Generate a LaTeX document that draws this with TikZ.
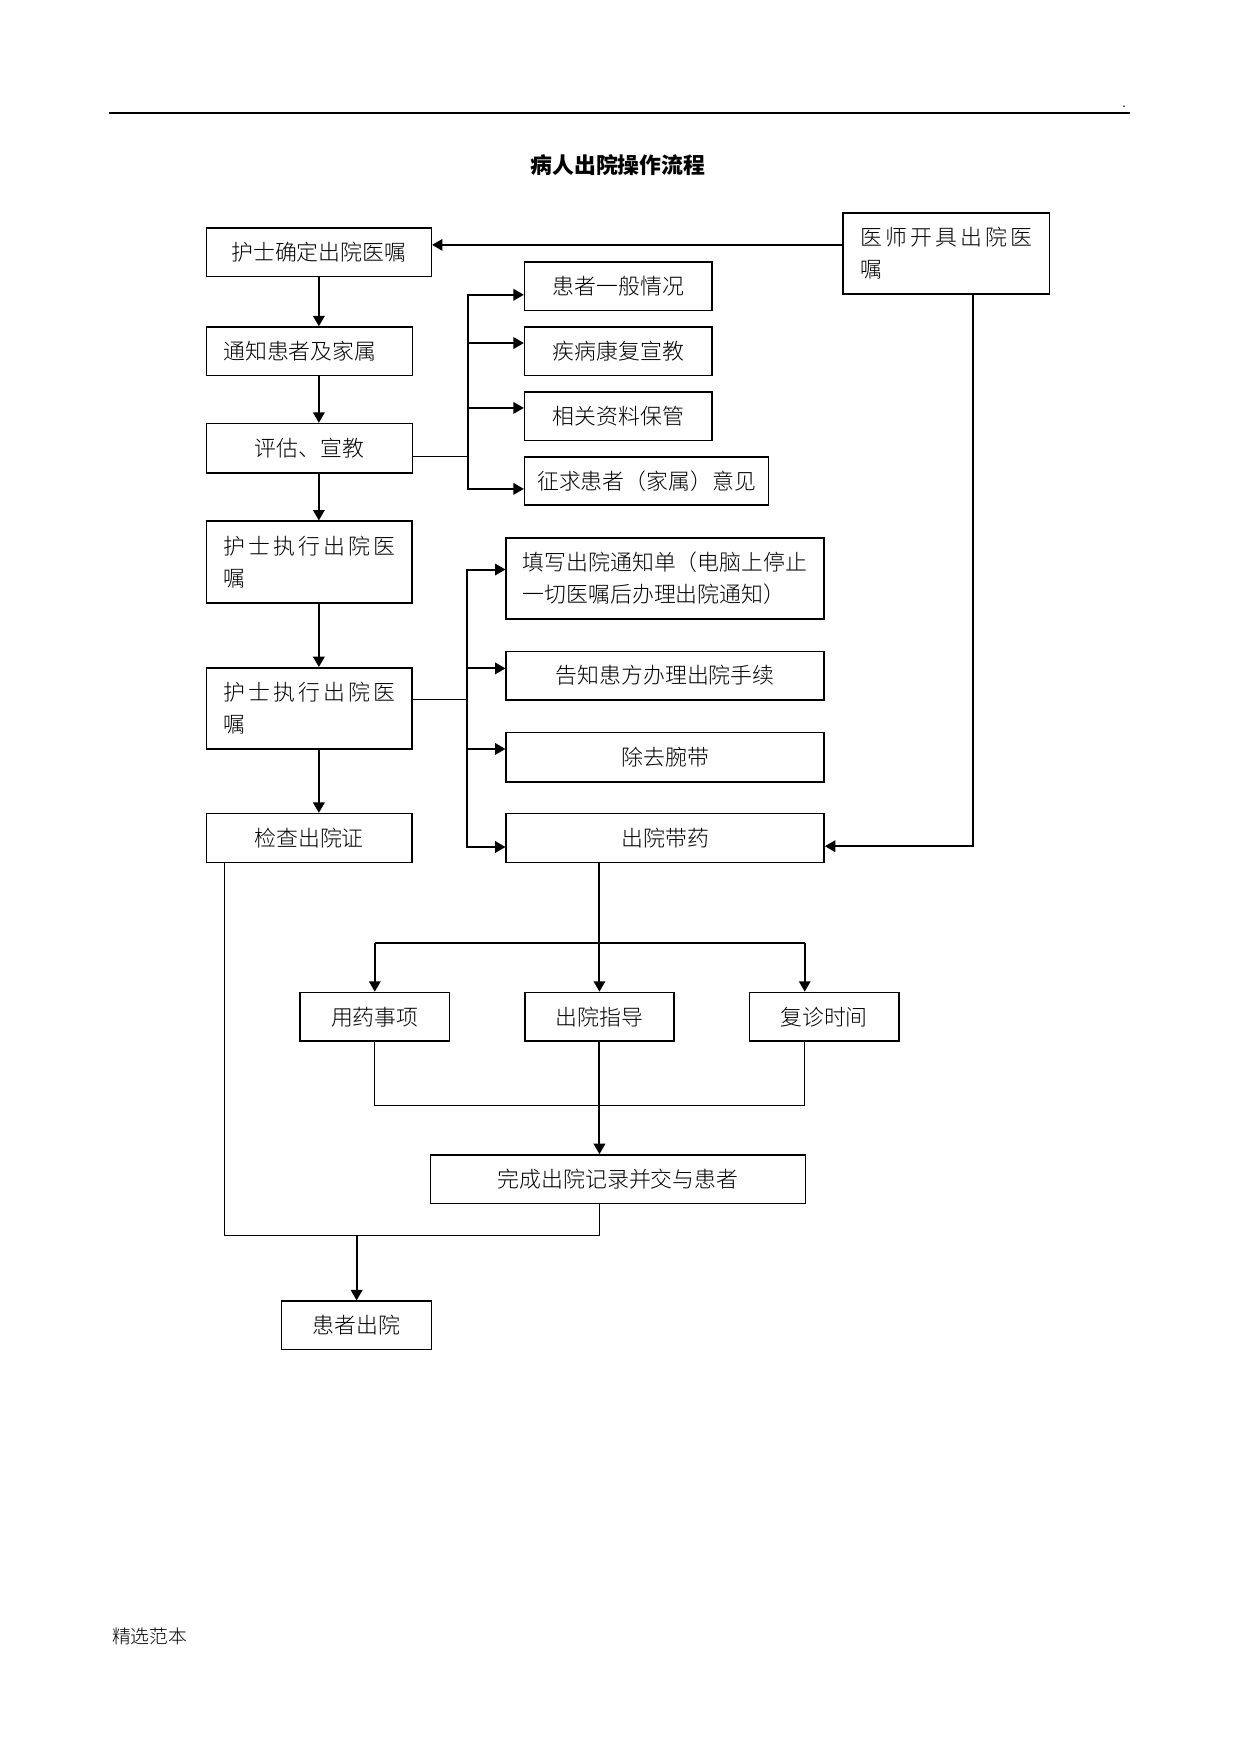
\documentclass[tikz,border=0pt]{standalone}
\usepackage{fontspec}
\setmainfont{Noto Sans CJK SC}
\newfontfamily\lightcjk{Noto Sans CJK SC Light}
\usetikzlibrary{arrows.meta}
\newdimen\px
\px=0.5412pt
\newcommand\boxfont{\lightcjk\fontsize{10.5pt}{15.4pt}\selectfont}
\newcommand\titlefont{\fontsize{10.5pt}{13pt}\selectfont\bfseries}

\begin{document}
\begin{tikzpicture}[x=0.5412pt,y=-0.5412pt,
  box/.style 2 args={draw,line width=0.75pt,anchor=north west,inner sep=0pt,
    minimum width=#1\px,minimum height=#2\px,font=\boxfont},
  lbox/.style={align=left},
  arr/.style={line width=0.96pt,-{Triangle[length=5pt,width=5.5pt]}},
  bus/.style={line width=0.96pt},
  link/.style={line width=0.5pt}]
\useasboundingbox (0,0) rectangle (1100,1555.6);

\draw[line width=0.96pt] (96.5,100) -- (1002,100);
\node[font=\fontsize{6pt}{6pt}\selectfont,anchor=base] (dot) at (997,95) {.};
\node[font=\titlefont] (title) at (548,146.2) {病人出院操作流程};

\node[box={199.4}{43.1}] (confirm) at (182.4,201.4) {护士确定出院医嘱};
\node[box={183}{71.8},lbox,text width=152.5\px] (doctor) at (747,188.1) {\hbox to\hsize{医\hfill 师\hfill 开\hfill 具\hfill 出\hfill 院\hfill 医}\\嘱};
\node[box={182.6}{42.9},lbox,text width=152.6\px] (notify) at (182.4,289.4) {通知患者及家属};
\node[box={182.6}{43.8}] (assess) at (182.4,375) {评估、宣教};
\node[box={182.4}{72.4},lbox,text width=152.5\px] (execA) at (182.3,461.6) {\hbox to\hsize{护\hfill 士\hfill 执\hfill 行\hfill 出\hfill 院\hfill 医}\\嘱};
\node[box={182.4}{72},lbox,text width=152.5\px] (execB) at (182.3,591.6) {\hbox to\hsize{护\hfill 士\hfill 执\hfill 行\hfill 出\hfill 院\hfill 医}\\嘱};
\node[box={182.4}{43.4}] (check) at (182.3,720.9) {检查出院证};

\node[box={166.4}{42.9}] (general) at (464.6,231.8) {患者一般情况};
\node[box={166.4}{42.9}] (rehab) at (464.6,289.4) {疾病康复宣教};
\node[box={166.4}{42.8}] (archive) at (464.6,347) {相关资料保管};
\node[box={216.2}{42.8}] (opinion) at (464.6,404.6) {征求患者（家属）意见};

\node[box={281.9}{72},lbox,text width=252.5\px] (fillform) at (448.3,476.4) {填写出院通知单（电脑上停止\\一切医嘱后办理出院通知）};
\node[box={281.9}{43.2}] (tell) at (448.3,577) {告知患方办理出院手续};
\node[box={281.9}{43.5}] (band) at (448.3,649.1) {除去腕带};
\node[box={281.9}{43.4}] (drug) at (448.3,720.9) {出院带药};

\node[box={132.6}{43.1}] (usage) at (265.4,879.5) {用药事项};
\node[box={132.1}{43.1}] (guide) at (464.9,879.5) {出院指导};
\node[box={132.5}{43.1}] (review) at (663.9,879.5) {复诊时间};
\node[box={332.5}{42.9}] (done) at (381.2,1023.6) {完成出院记录并交与患者};
\node[box={133}{42.8}] (leave) at (249.1,1153.3) {患者出院};

\coordinate (busA) at (415.3,404.6);
\coordinate (busB) at (414.5,620.2);
\coordinate (busC) at (863.1,750.5);
\coordinate (busD) at (713.7,836.1);
\coordinate (joinE) at (713.7,980.2);
\coordinate (joinF) at (199,1095.4);

\draw[arr] ([yshift=7.5\px]doctor.west) -- ([yshift=7.5\px]doctor.west -| confirm.east);
\draw[arr] (confirm.south) -- (confirm.south |- notify.north);
\draw[arr] (confirm.south |- notify.south) -- (confirm.south |- assess.north);
\draw[arr] (confirm.south |- assess.south) -- (confirm.south |- execA.north);
\draw[arr] (confirm.south |- execA.south) -- (confirm.south |- execB.north);
\draw[arr] (confirm.south |- execB.south) -- (confirm.south |- check.north);

\draw[link] (assess.east |- busA) -- (busA);
\draw[arr] (busA) |- ([yshift=-7.5\px]general.west);
\draw[arr] ([yshift=7.3\px]rehab.west -| busA) -- ([yshift=7.3\px]rehab.west);
\draw[arr] ([yshift=7.3\px]archive.west -| busA) -- ([yshift=7.3\px]archive.west);
\draw[arr] (busA) |- ([yshift=-6.9\px]opinion.west);

\draw[link] (execB.east |- busB) -- (busB);
\draw[arr] (busB) |- ([yshift=8\px]fillform.west);
\draw[arr] ([yshift=6.5\px]tell.west -| busB) -- ([yshift=6.5\px]tell.west);
\draw[arr] ([yshift=7.3\px]band.west -| busB) -- ([yshift=7.3\px]band.west);
\draw[arr] (busB) |- ([yshift=-7.9\px]drug.west);

\draw[arr] (doctor.south -| busC) |- (drug.east |- busC);

\draw[arr] (guide.north |- drug.south) -- (guide.north);
\draw[bus] (usage.north |- busD) -- (busD);
\draw[arr] (usage.north |- busD) -- (usage.north);
\draw[arr] (busD) -- (busD |- review.north);

\draw[link] (usage.south) |- (joinE) -- (joinE |- review.south);
\draw[arr] (guide.south) -- (guide.south |- done.north);

\draw[link] (check.south -| joinF) -- (joinF) -- (joinF -| guide.south) -- (guide.south |- done.south);
\draw[arr] (joinF -| leave.north) -- (leave.north);

\node[font=\lightcjk\fontsize{9pt}{11pt}\selectfont] (footer) at (132.6,1451.5) {精选范本};
\end{tikzpicture}
\end{document}
